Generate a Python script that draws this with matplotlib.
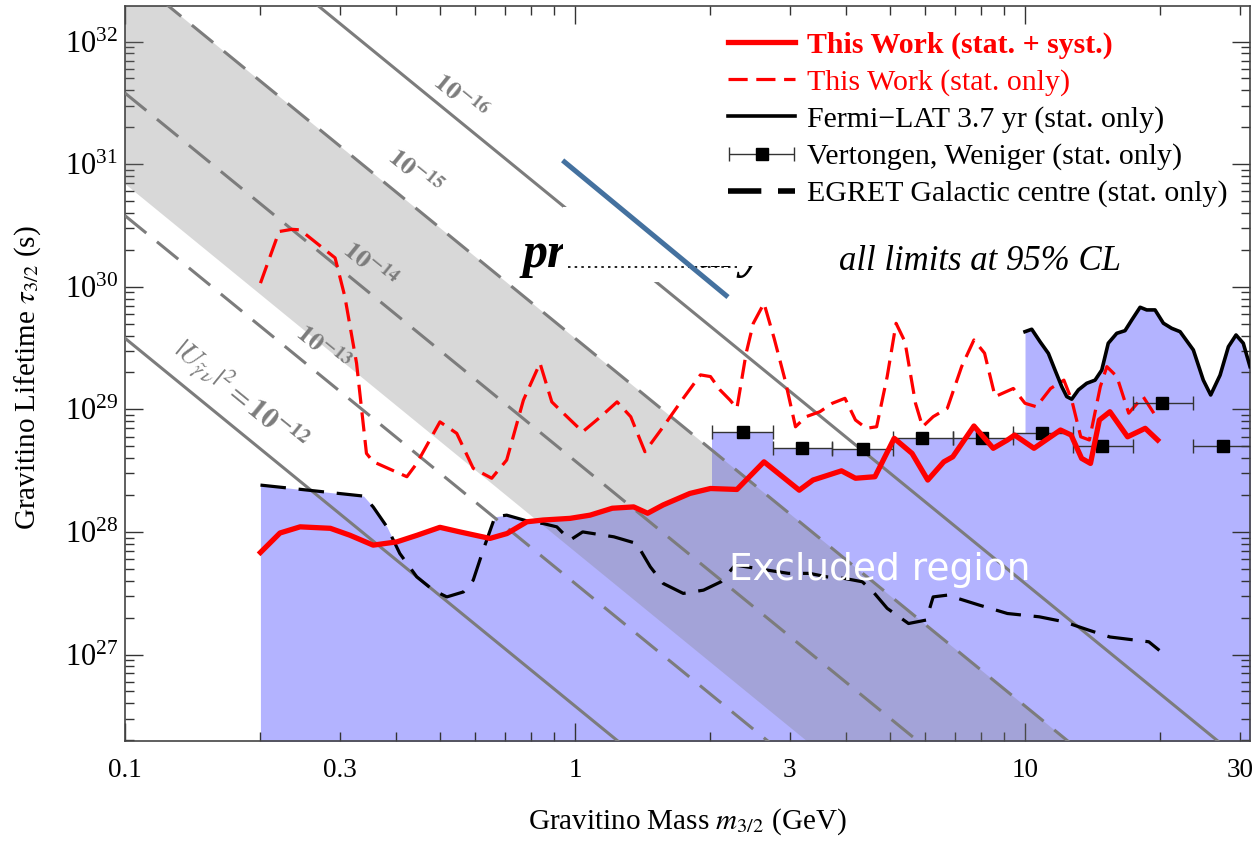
import numpy as np
import matplotlib
matplotlib.use('Agg')
import matplotlib.pyplot as plt
from matplotlib.ticker import FixedLocator, NullFormatter, FuncFormatter, LogLocator
from matplotlib.lines import Line2D
from matplotlib.patches import Rectangle
from matplotlib.legend_handler import HandlerErrorbar

plt.rcParams['font.family'] = ['Liberation Serif', 'DejaVu Serif']
plt.rcParams['mathtext.fontset'] = 'stix'

# ---- data (mass in GeV, lifetime in s) ----
# This Work (stat. + syst.)
syst_m = [0.200, 0.221, 0.245, 0.286, 0.316, 0.356, 0.402, 0.446, 0.501, 0.555, 0.647, 0.706,
          0.782, 0.849, 0.975, 1.08, 1.21, 1.35, 1.45, 1.57, 1.80, 2.00, 2.29, 2.63, 3.15, 3.38,
          3.91, 4.20, 4.64, 5.12, 5.61, 6.08, 6.60, 6.91, 7.70, 8.50, 9.14, 9.48, 10.47, 11.99,
          12.66, 13.36, 13.98, 14.63, 15.44, 16.90, 18.50, 19.71]
syst_tau = [6.8e27, 9.8e27, 1.10e28, 1.07e28, 9.4e27, 7.8e27, 8.3e27, 9.4e27, 1.09e28, 1.00e28,
            8.85e27, 9.7e27, 1.21e28, 1.25e28, 1.29e28, 1.37e28, 1.56e28, 1.60e28, 1.42e28,
            1.66e28, 2.06e28, 2.26e28, 2.22e28, 3.73e28, 2.19e28, 2.65e28, 3.15e28, 2.74e28,
            2.82e28, 5.80e28, 4.37e28, 2.65e28, 3.73e28, 4.10e28, 7.31e28, 4.81e28, 5.62e28,
            6.17e28, 4.81e28, 6.78e28, 6.17e28, 3.98e28, 3.62e28, 8.18e28, 9.56e28, 5.97e28,
            7.00e28, 5.62e28]

# This Work (stat. only)
stat_m = [0.200, 0.220, 0.235, 0.245, 0.293, 0.308, 0.327, 0.344, 0.356, 0.423, 0.445, 0.501,
          0.546, 0.594, 0.653, 0.705, 0.768, 0.836, 0.888, 0.942, 1.04, 1.14, 1.24, 1.33, 1.43,
          1.57, 1.74, 1.90, 2.00, 2.10, 2.21, 2.29, 2.40, 2.49, 2.63, 2.77, 2.93, 3.09, 3.26,
          3.50, 3.73, 3.98, 4.20, 4.44, 4.68, 4.94, 5.17, 5.41, 5.71, 5.92, 6.25, 6.72, 7.23,
          7.70, 8.13, 8.58, 9.42, 10.0, 10.6, 11.4, 12.2, 12.7, 13.3, 13.9, 14.7, 15.2, 16.0,
          17.0, 18.3, 19.45]
stat_tau = [1.07e30, 2.82e30, 2.94e30, 2.91e30, 1.72e30, 8.3e29, 2.38e29, 4.37e28, 3.74e28,
            2.82e28, 3.62e28, 7.9e28, 6.37e28, 3.30e28, 2.74e28, 3.86e28, 1.19e29, 2.38e29,
            1.15e29, 9.3e28, 6.56e28, 8.7e28, 1.15e29, 8.7e28, 4.51e28, 7.2e28, 1.23e29, 1.91e29,
            1.85e29, 1.44e29, 1.19e29, 1.02e29, 2.86e29, 5.03e29, 7.33e29, 3.80e29, 1.73e29,
            7.2e28, 8.7e28, 9.56e28, 1.12e29, 1.23e29, 8.18e28, 7.0e28, 7.21e28, 1.85e29,
            5.03e29, 3.56e29, 1.12e29, 7.21e28, 8.71e28, 1.02e29, 2.23e29, 3.68e29, 2.87e29,
            1.27e29, 1.48e29, 1.12e29, 1.05e29, 1.48e29, 1.73e29, 1.19e29, 5.97e28, 5.62e28,
            1.53e29, 2.23e29, 1.85e29, 9.3e28, 1.27e29, 8.98e28]

# Fermi-LAT 3.7 yr
fermi_m = [10.0, 10.35, 10.8, 11.27, 11.66, 12.07, 12.38, 12.70, 13.14, 13.71, 14.31, 14.81,
           15.31, 15.99, 16.68, 17.27, 18.02, 18.64, 19.45, 20.30, 21.18, 22.11, 23.66, 24.9,
           25.86, 27.13, 28.31, 29.44, 30.55, 31.62]
fermi_tau = [4.3e29, 4.5e29, 3.56e29, 2.86e29, 2.09e29, 1.53e29, 1.27e29, 1.21e29, 1.44e29,
             1.63e29, 1.73e29, 2.09e29, 3.46e29, 4.17e29, 4.38e29, 5.36e29, 6.8e29, 6.47e29,
             6.47e29, 5.04e29, 4.58e29, 4.3e29, 3.05e29, 1.73e29, 1.31e29, 1.9e29, 3.24e29,
             4.04e29, 3.46e29, 2.23e29]

# Vertongen, Weniger (bin centre, bin edges, limit)
vw_m = [2.36, 3.20, 4.36, 5.90, 8.04, 10.9, 14.8, 20.2, 27.5]
vw_lo = [2.02, 2.75, 3.73, 5.08, 6.91, 9.39, 12.8, 17.4, 23.6]
vw_hi = [2.75, 3.73, 5.08, 6.91, 9.39, 12.8, 17.4, 23.6, 32.1]
vw_tau = [6.5e28, 4.86e28, 4.71e28, 5.86e28, 5.86e28, 6.37e28, 5.05e28, 1.12e29, 5.05e28]

# EGRET Galactic centre
egret_m = [0.200, 0.339, 0.356, 0.382, 0.408, 0.445, 0.484, 0.519, 0.565, 0.594, 0.625, 0.664,
           0.705, 0.794, 0.850, 0.911, 0.975, 1.04, 1.22, 1.37, 1.47, 1.57, 1.74, 1.93, 2.11,
           2.27, 2.53, 2.98, 3.32, 3.63, 3.98, 4.35, 4.60, 4.94, 5.51, 6.03, 6.25, 6.72, 7.91,
           9.14, 10.76, 12.21, 13.86, 15.44, 18.84, 19.89]
egret_tau = [2.41e28, 1.96e28, 1.60e28, 1.10e28, 6.67e27, 4.30e27, 3.35e27, 2.95e27, 3.24e27,
             4.04e27, 7.1e27, 1.33e28, 1.37e28, 1.21e28, 1.17e28, 1.10e28, 8.57e27, 1.00e28,
             9.12e27, 8.05e27, 5.19e27, 3.80e27, 3.15e27, 3.35e27, 3.92e27, 5.36e27, 5.04e27,
             4.59e27, 4.59e27, 4.30e27, 4.17e27, 3.92e27, 3.24e27, 2.38e27, 1.79e27, 1.91e27,
             2.95e27, 3.05e27, 2.53e27, 2.16e27, 2.03e27, 1.85e27, 1.58e27, 1.39e27, 1.27e27,
             1.08e27]

# iso-|U|^2 lines: tau = tau_ref * (u2_ref/U2) * (m_ref/m)^3
tau_ref, u2_ref, m_ref = 3.8e27, 1e-16, 10.0
couplings = [1e-16, 1e-15, 1e-14, 1e-13, 1e-12]
coupling_dashed = [False, True, True, True, False]
band_u2 = [1e-15, 5.5e-14]   # grey band edges
line_m = np.array([0.1, 32.0])

def iso_tau(u2):
    return tau_ref * (u2_ref / u2) * (m_ref / line_m) ** 3

# ---- figure ----
fig = plt.figure(figsize=(12.55, 8.41), dpi=100)
ax = fig.add_axes([125 / 1255, 100 / 841, 1125 / 1255, 735 / 841])
ax.set_xscale('log')
ax.set_yscale('log')

blue = '#b3b3ff'
floor = 1e25
ax.fill_between(egret_m, egret_tau, floor, color=blue, lw=0, zorder=1)
ax.fill_between(syst_m, syst_tau, floor, color=blue, lw=0, zorder=1)
for lo, hi, t in zip(vw_lo, vw_hi, vw_tau):
    ax.fill_between([lo, hi], [t, t], floor, color=blue, lw=0, zorder=1)
ax.fill_between(fermi_m, fermi_tau, floor, color=blue, lw=0, zorder=1)

# grey band
ax.fill_between(line_m, iso_tau(band_u2[0]), iso_tau(band_u2[1]),
                color='0.5', alpha=0.3, lw=0, zorder=2)

# iso-coupling lines
grey = '#7c7c7c'
for u2, dashed in zip(couplings, coupling_dashed):
    ls = (0, (9, 4.5)) if dashed else '-'
    ax.plot(line_m, iso_tau(u2), color=grey, lw=2.2, ls=ls, zorder=3)

# labels on iso lines (rotation follows slope -3 on screen)
ang = -39.2
lab_kw = dict(color=grey, rotation=ang, rotation_mode='anchor',
              ha='center', va='center', zorder=3)
ax.text(0.555, 3.54e31, r'$\mathbf{10^{-16}}$', fontsize=19, **lab_kw)
ax.text(0.441, 8.65e30, r'$\mathbf{10^{-15}}$', fontsize=19, **lab_kw)
ax.text(0.350, 1.51e30, r'$\mathbf{10^{-14}}$', fontsize=19, **lab_kw)
ax.text(0.275, 3.17e29, r'$\mathbf{10^{-13}}$', fontsize=19, **lab_kw)
ax.text(0.180, 1.30e29, r'$|U_{\tilde{\gamma}\,\nu}|^2 = \mathbf{10^{-12}}$', fontsize=21, **lab_kw)

# limits
l_egret, = ax.plot(egret_m, egret_tau, color='k', lw=2.3, ls=(0, (8, 4)), zorder=5)
l_stat, = ax.plot(stat_m, stat_tau, color='red', lw=2.3, ls=(0, (6, 2.7)), zorder=6)
l_fermi, = ax.plot(fermi_m, fermi_tau, color='k', lw=2.6, zorder=6)
vw_xerr = [np.array(vw_m) - np.array(vw_lo), np.array(vw_hi) - np.array(vw_m)]
eb = ax.errorbar(vw_m, vw_tau, xerr=vw_xerr, fmt='s', color='k', ms=8,
                 ecolor='#333333', elinewidth=1, capsize=5, capthick=1, zorder=7)
l_syst, = ax.plot(syst_m, syst_tau, color='red', lw=3.8, zorder=8)

# annotations
ax.text(0.76, 0.652, 'all limits at 95% CL', transform=ax.transAxes, fontsize=25,
        style='italic', ha='center', va='center', zorder=9)
ax.text(880 / 1255, 1 - 570 / 841, 'Excluded region', transform=fig.transFigure,
        family='DejaVu Sans', fontsize=27, color='white', ha='center', va='center', zorder=12)
ax.text(0.353, 0.645, 'preliminary', transform=ax.transAxes, fontsize=36,
        fontweight='bold', style='italic', ha='left', va='baseline', zorder=9)
# white patch hiding most of the word (upper part wide, lower strip narrower)
ax.add_patch(Rectangle((0.389, 0.646), 0.200, 0.081, transform=ax.transAxes,
                       color='white', lw=0, zorder=10))
ax.add_patch(Rectangle((0.389, 0.624), 0.118, 0.023, transform=ax.transAxes,
                       color='white', lw=0, zorder=10))
ax.plot([0.394, 0.544], [0.645, 0.645], transform=ax.transAxes, color='k',
        lw=1.2, ls=(0, (1.5, 2.5)), zorder=11)
ax.plot([0.389, 0.536], [0.790, 0.604], transform=ax.transAxes, color='#44719f',
        lw=3.6, solid_capstyle='butt', zorder=11)

# legend
handles = [l_syst, l_stat, l_fermi, eb, Line2D([], [], color='k', lw=4, ls=(0, (6, 3)))]
labels = ['This Work (stat. + syst.)', 'This Work (stat. only)',
          'Fermi\u2212LAT 3.7 yr (stat. only)', 'Vertongen, Weniger (stat. only)',
          'EGRET Galactic centre (stat. only)']
leg = ax.legend(handles, labels, loc='upper left', bbox_to_anchor=(0.536, 0.965),
                frameon=False, fontsize=21.5, handlelength=2.25, handletextpad=0.38,
                labelspacing=0.33, borderpad=0, borderaxespad=0,
                handler_map={type(eb): HandlerErrorbar(xerr_size=1.1)})
leg.set_zorder(12)
txts = leg.get_texts()
txts[0].set_color('red')
txts[0].set_fontweight('bold')
txts[1].set_color('red')

# axes, ticks
ax.set_xlim(0.1, 31.62)
ax.set_ylim(1.97e26, 1.95e32)
ax.xaxis.set_major_locator(FixedLocator([0.1, 1, 10]))
ax.xaxis.set_major_formatter(FuncFormatter(lambda v, p: '%g' % v))
ax.xaxis.set_minor_locator(FixedLocator([0.2, 0.3, 0.4, 0.5, 0.6, 0.7, 0.8, 0.9,
                                         2, 3, 4, 5, 6, 7, 8, 9, 20, 30]))
ax.xaxis.set_minor_formatter(FuncFormatter(lambda v, p: '%g' % v if ('%g' % v) in ('0.3', '3', '30') else ''))
ax.yaxis.set_major_locator(FixedLocator([1e27, 1e28, 1e29, 1e30, 1e31, 1e32]))
ax.yaxis.set_minor_locator(LogLocator(base=10, subs=np.arange(2, 10), numticks=20))
ax.yaxis.set_minor_formatter(NullFormatter())
ax.tick_params(which='both', direction='in', top=True, right=True, color='#333333', width=1)
ax.tick_params(which='major', length=13)
ax.tick_params(which='minor', length=6.5)
ax.tick_params(axis='x', which='both', labelsize=19.5, pad=12)
ax.tick_params(axis='y', which='both', labelsize=22, pad=5)
for s in ax.spines.values():
    s.set_color('#444444')
    s.set_linewidth(1.2)

fig.text(687 / 1255, 1 - 822 / 841, r'Gravitino Mass $m_{3/2}$ (GeV)', fontsize=21,
         ha='center', va='center')
fig.text(28 / 1255, 1 - 378 / 841, r'Gravitino Lifetime $\tau_{3/2}$ (s)', fontsize=21,
         rotation=90, ha='center', va='center')

fig.savefig('out.png', dpi=100)
